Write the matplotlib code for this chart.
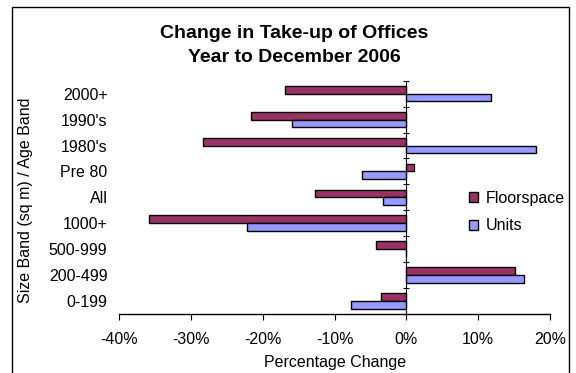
import numpy as np
import matplotlib
matplotlib.use("Agg")
import matplotlib.pyplot as plt
from matplotlib.patches import Rectangle

plt.rcParams['font.family'] = ['Liberation Sans', 'DejaVu Sans']

# Data (bottom to top)
bands = ['0-199', '200-499', '500-999', '1000+', 'All',
         'Pre 80', "1980's", "1990's", '2000+']
floorspace = [-3.5, 15.1, -4.2, -35.8, -12.7, 1.1, -28.4, -21.6, -16.9]
units = [-7.7, 16.4, 0.0, -22.2, -3.3, -6.2, 18.1, -15.9, 11.8]
xticks = [-40, -30, -20, -10, 0, 10, 20]

fig = plt.figure(figsize=(5.76, 3.73), dpi=100)
ax = fig.add_axes([119.3 / 576, 1 - 314 / 373, (550 - 119.3) / 576, (314 - 80.7) / 373])

y = np.arange(len(bands))
h = 0.3
ax.barh(y + h / 2, floorspace, height=h, color='#993366', edgecolor='black',
        linewidth=1, label='Floorspace')
ax.barh(y - h / 2, units, height=h, color='#9999FF', edgecolor='black',
        linewidth=1, label='Units')

ax.set_xlim(-40, 20)
ax.set_ylim(-0.5, len(bands) - 0.5)
ax.set_xticks(xticks)
ax.set_xticklabels([f'{t}%' for t in xticks], fontsize=11.5)
ax.tick_params(axis='x', length=4, direction='out', pad=9)
ax.set_yticks(y)
ax.set_yticklabels(bands, fontsize=11.5)
ax.tick_params(axis='y', length=0, pad=8.5)

for s in ['left', 'top', 'right']:
    ax.spines[s].set_visible(False)
ax.spines['bottom'].set_linewidth(1)

# category axis drawn at 0%
sec = ax.secondary_yaxis(40 / 60)
sec.set_yticks(np.arange(len(bands) + 1) - 0.5)
sec.set_yticklabels([])
sec.tick_params(axis='y', length=4, direction='inout', width=0.8)
sec.spines['left'].set_linewidth(1)

ax.set_xlabel('Percentage Change', fontsize=11.5, labelpad=6)
fig.text(26 / 576, 1 - 200 / 373, 'Size Band (sq m) / Age Band', rotation=90,
         fontsize=11.5, ha='center', va='center')

fig.text(294 / 576, 1 - 33 / 373, 'Change in Take-up of Offices',
         fontsize=14, fontweight='bold', ha='center', va='center')
fig.text(294 / 576, 1 - 58 / 373, 'Year to December 2006',
         fontsize=14, fontweight='bold', ha='center', va='center')

ax.legend(loc='center left', bbox_to_anchor=(469 / 576, 1 - 212 / 373),
          bbox_transform=fig.transFigure, frameon=False, fontsize=11.5,
          handlelength=0.55, handleheight=0.55, handletextpad=0.5,
          labelspacing=0.8, borderaxespad=0, borderpad=0)

# chart frame
fig.patches.append(Rectangle((11.7 / 576, -0.05), (569 - 11.7) / 576, 1.05 - 7.3 / 373,
                             transform=fig.transFigure, fill=False,
                             edgecolor='black', linewidth=1))

fig.savefig('out.png', dpi=100)
